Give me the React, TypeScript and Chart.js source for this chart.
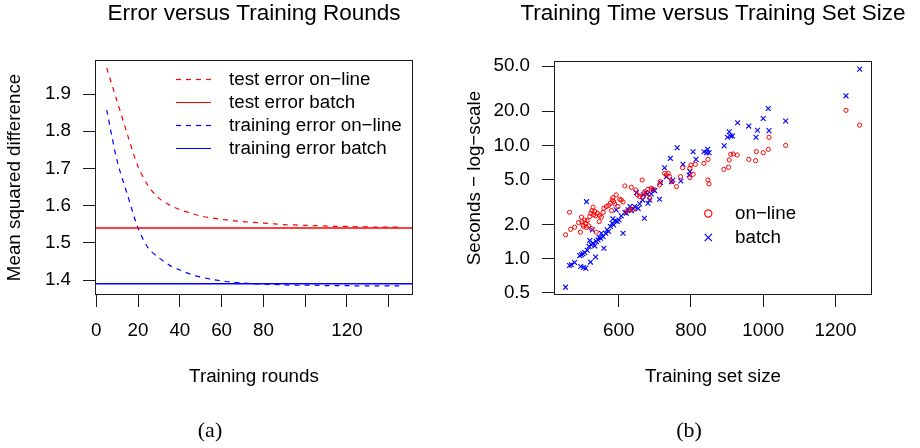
import { useEffect, useRef } from 'react';
import { Chart, registerables } from 'chart.js';

Chart.register(...registerables);

const SANS = '"Liberation Sans", Arial, Helvetica, sans-serif';
const SERIF = '"Liberation Serif", "DejaVu Serif", serif';
const TEXT_SIZE = 18.8;
const TITLE_SIZE = 22.5;
const RED = '#ff0000';
const BLUE = '#0000ff';
const INK = '#1a1a1a';

// ---- Panel (a): error versus training rounds ----
const ROUNDS = [5, 10, 15, 20, 25, 30, 35, 40, 45, 50, 55, 60, 65, 70, 75, 80, 85, 90, 95, 100, 105, 110, 115, 120, 125, 130, 135, 140, 145];
const TEST_ERROR_ONLINE = [1.970, 1.880, 1.790, 1.705, 1.652, 1.620, 1.602, 1.589, 1.580, 1.572, 1.567, 1.563, 1.560, 1.557, 1.555, 1.553, 1.551, 1.549, 1.548, 1.547, 1.546, 1.545, 1.544, 1.544, 1.543, 1.543, 1.542, 1.542, 1.542];
const TRAINING_ERROR_ONLINE = [1.857, 1.720, 1.628, 1.540, 1.485, 1.460, 1.440, 1.427, 1.416, 1.408, 1.402, 1.398, 1.394, 1.392, 1.390, 1.389, 1.388, 1.387, 1.386, 1.386, 1.386, 1.385, 1.385, 1.385, 1.384, 1.384, 1.384, 1.384, 1.384];
const TEST_ERROR_BATCH = 1.54;
const TRAINING_ERROR_BATCH = 1.39;
const ROUND_TICKS = [0, 20, 40, 60, 80, 100, 120, 140];
const ROUND_TICK_LABELS = ['0', '20', '40', '60', '80', '', '120', ''];
const ERROR_TICKS = [1.4, 1.5, 1.6, 1.7, 1.8, 1.9];
const ROUNDS_MIN = -0.6;
const ROUNDS_MAX = 151.6;
const ERROR_MIN = 1.3597;
const ERROR_MAX = 1.9914;
const ERROR_LEGEND = ['test error on\u2212line', 'test error batch', 'training error on\u2212line', 'training error batch'];

// ---- Panel (b): training time versus training set size ----
const ONLINE_SIZE = [453, 464, 467, 478, 489, 494, 497, 498, 501, 503, 506, 509, 511, 513, 517, 520, 523, 524, 526, 529, 531, 534, 536, 538, 541, 546, 547, 552, 557, 559, 566, 572, 577, 580, 582, 584, 586, 589, 593, 598, 603, 607, 612, 617, 621, 631, 635, 640, 647, 652, 658, 665, 666, 672, 677, 681, 686, 690, 695, 713, 715, 727, 732, 737, 741, 747, 760, 771, 777, 797, 797, 800, 806, 812, 836, 847, 847, 850, 891, 904, 906, 910, 917, 928, 960, 979, 981, 1000, 1014, 1016, 1062, 1229, 1267];
const ONLINE_SECONDS = [1.62, 2.56, 1.81, 1.89, 2.08, 1.71, 2.32, 2.12, 1.98, 1.92, 2.19, 2.05, 1.88, 2.16, 1.94, 2.35, 2.51, 1.84, 2.65, 2.84, 2.43, 2.60, 2.38, 1.71, 2.51, 2.12, 2.40, 2.32, 2.56, 2.78, 2.88, 2.94, 3.08, 2.65, 3.29, 3.45, 3.18, 3.04, 3.65, 2.88, 3.34, 3.29, 3.16, 4.38, 2.60, 2.69, 4.26, 2.72, 4.04, 3.65, 3.53, 4.94, 3.53, 3.90, 3.77, 4.09, 3.41, 4.18, 4.09, 4.47, 4.78, 5.66, 5.47, 5.66, 5.29, 4.78, 4.32, 5.29, 6.35, 5.19, 6.27, 6.70, 5.55, 6.80, 6.94, 7.52, 4.94, 4.56, 6.14, 6.40, 7.43, 8.33, 8.39, 8.22, 7.52, 7.32, 8.79, 8.61, 9.22, 11.8, 10.0, 20.4, 15.1];
const BATCH_SIZE = [453, 464, 469, 478, 492, 495, 497, 501, 503, 506, 509, 511, 513, 518, 520, 522, 524, 527, 529, 534, 536, 538, 543, 546, 550, 552, 557, 559, 564, 568, 572, 577, 582, 584, 586, 591, 593, 596, 601, 607, 612, 617, 621, 626, 631, 635, 640, 644, 649, 654, 658, 666, 668, 671, 675, 679, 681, 686, 690, 695, 700, 713, 716, 727, 732, 743, 746, 750, 762, 772, 778, 795, 797, 806, 814, 836, 843, 846, 850, 892, 901, 906, 910, 915, 929, 960, 980, 984, 1000, 1014, 1016, 1062, 1229, 1267];
const BATCH_SECONDS = [0.558, 0.867, 0.879, 0.922, 1.06, 0.850, 1.08, 1.10, 0.833, 1.13, 0.822, 3.18, 1.18, 1.28, 1.44, 0.929, 1.32, 1.79, 1.37, 1.29, 1.03, 1.41, 1.46, 1.53, 1.51, 1.67, 1.56, 1.23, 1.67, 1.79, 1.73, 1.92, 2.05, 2.24, 1.98, 2.15, 2.69, 2.12, 2.19, 2.38, 1.67, 2.55, 2.51, 2.69, 2.88, 2.65, 2.74, 2.88, 3.82, 2.76, 3.04, 3.29, 3.65, 2.27, 3.82, 3.72, 3.08, 3.29, 3.72, 4.04, 3.98, 3.34, 4.69, 6.35, 5.29, 7.68, 4.78, 4.94, 9.53, 4.84, 6.80, 5.47, 5.86, 8.79, 7.52, 8.79, 8.61, 9.22, 8.61, 9.93, 11.8, 13.2, 12.1, 12.1, 15.85, 14.8, 11.8, 13.6, 17.3, 21.2, 13.5, 16.4, 27.4, 47.2];
const SIZE_TICKS = [600, 800, 1000, 1200];
const SECONDS_TICKS = [0.5, 1, 2, 5, 10, 20, 50];
const SIZE_MIN = 421;
const SIZE_MAX = 1301;
const SECONDS_MIN = 0.4755;
const SECONDS_MAX = 55.7;
const TIME_LEGEND = ['on\u2212line', 'batch'];

const font = (size: number, family = SANS) => ({ family, size, weight: 'normal' as const, lineHeight: 1.2 });

// Outer box, main title, sub-caption and an in-plot legend, drawn after the datasets.
function framePlugin(title: string, caption: string, captionX: number, legend: (ctx: CanvasRenderingContext2D) => void) {
  return {
    id: 'frame',
    afterDraw(chart: any) {
      const { ctx, chartArea: a } = chart;
      ctx.save();
      ctx.strokeStyle = INK;
      ctx.lineWidth = 1;
      const l = Math.round(a.left) + 0.5;
      const t = Math.round(a.top) + 0.5;
      const r = Math.round(a.right) - 0.5;
      const b = Math.round(a.bottom) - 0.5;
      ctx.strokeRect(l, t, r - l, b - t);

      ctx.fillStyle = '#000';
      ctx.textAlign = 'center';
      ctx.textBaseline = 'middle';
      ctx.font = `${TITLE_SIZE}px ${SANS}`;
      ctx.fillText(title, (a.left + a.right) / 2, 13.5);

      ctx.font = `22px ${SERIF}`;
      ctx.fillText(caption, captionX, 431);

      legend(ctx);
      ctx.restore();
    },
  };
}

function sharedScale(size: number, tickPadding: number) {
  return {
    grid: { drawOnChartArea: false, drawTicks: true, tickLength: 12, color: INK, lineWidth: 1 },
    border: { display: false },
    ticks: { padding: tickPadding, color: '#000', font: font(TEXT_SIZE), maxRotation: 0, autoSkip: false },
    afterFit: (s: any) => {
      if (s.isHorizontal()) s.height = size;
      else s.width = size;
    },
  };
}

function ErrorPanel() {
  const ref = useRef<HTMLCanvasElement>(null);
  useEffect(() => {
    const legend = (ctx: CanvasRenderingContext2D) => {
      const rows = [79.5, 102.5, 125.5, 148.5];
      const styles = [
        { color: RED, dash: [5, 5] },
        { color: RED, dash: [] },
        { color: BLUE, dash: [5, 5] },
        { color: BLUE, dash: [] },
      ];
      ctx.font = `${TEXT_SIZE}px ${SANS}`;
      ctx.textAlign = 'left';
      ctx.textBaseline = 'middle';
      ERROR_LEGEND.forEach((label, i) => {
        ctx.strokeStyle = styles[i].color;
        ctx.setLineDash(styles[i].dash);
        ctx.lineWidth = 1.2;
        ctx.beginPath();
        ctx.moveTo(176, rows[i]);
        ctx.lineTo(211, rows[i]);
        ctx.stroke();
        ctx.setLineDash([]);
        ctx.fillStyle = '#000';
        ctx.fillText(label, 229, rows[i]);
      });
    };

    const xs = sharedScale(153, 13);
    const ys = sharedScale(95, 12);
    const chart = new Chart(ref.current!, {
      type: 'line',
      data: {
        datasets: [
          {
            label: ERROR_LEGEND[0],
            data: ROUNDS.map((x, i) => ({ x, y: TEST_ERROR_ONLINE[i] })),
            borderColor: RED, borderWidth: 1.2, borderDash: [5, 5], pointRadius: 0, tension: 0.3,
          },
          {
            label: ERROR_LEGEND[1],
            data: [{ x: ROUNDS_MIN, y: TEST_ERROR_BATCH }, { x: ROUNDS_MAX, y: TEST_ERROR_BATCH }],
            borderColor: RED, borderWidth: 1.5, pointRadius: 0,
          },
          {
            label: ERROR_LEGEND[2],
            data: ROUNDS.map((x, i) => ({ x, y: TRAINING_ERROR_ONLINE[i] })),
            borderColor: BLUE, borderWidth: 1.2, borderDash: [5, 5], pointRadius: 0, tension: 0.3,
          },
          {
            label: ERROR_LEGEND[3],
            data: [{ x: ROUNDS_MIN, y: TRAINING_ERROR_BATCH }, { x: ROUNDS_MAX, y: TRAINING_ERROR_BATCH }],
            borderColor: BLUE, borderWidth: 1.5, pointRadius: 0,
          },
        ],
      },
      options: {
        responsive: false,
        animation: false,
        events: [],
        layout: { padding: { left: 0, top: 60, right: 47, bottom: 0 } },
        plugins: { legend: { display: false }, tooltip: { enabled: false }, title: { display: false } },
        scales: {
          x: {
            type: 'linear',
            min: ROUNDS_MIN,
            max: ROUNDS_MAX,
            ...xs,
            afterBuildTicks: (s: any) => { s.ticks = ROUND_TICKS.map((value) => ({ value })); },
            ticks: { ...xs.ticks, callback: (v: any) => ROUND_TICK_LABELS[ROUND_TICKS.indexOf(Number(v))] ?? '' },
            title: { display: true, text: 'Training rounds', color: '#000', font: font(TEXT_SIZE), padding: { top: 0, bottom: 60 } },
          },
          y: {
            type: 'linear',
            min: ERROR_MIN,
            max: ERROR_MAX,
            ...ys,
            afterBuildTicks: (s: any) => { s.ticks = ERROR_TICKS.map((value) => ({ value })); },
            ticks: { ...ys.ticks, callback: (v: any) => Number(v).toFixed(1) },
            title: { display: true, text: 'Mean squared difference', color: '#000', font: font(TEXT_SIZE), padding: { top: 4, bottom: 0 } },
          },
        },
      },
      plugins: [framePlugin('Error versus Training Rounds', '(a)', 210, legend)],
    } as any);
    return () => chart.destroy();
  }, []);
  return <canvas ref={ref} width={460} height={448} style={{ position: 'absolute', left: 0, top: 0 }} />;
}

function TimePanel() {
  const ref = useRef<HTMLCanvasElement>(null);
  useEffect(() => {
    const legend = (ctx: CanvasRenderingContext2D) => {
      const cx = 248.3;
      const rows = [213.5, 237.5];
      ctx.lineWidth = 1.2;
      ctx.strokeStyle = RED;
      ctx.beginPath();
      ctx.arc(cx, rows[0], 3.6, 0, Math.PI * 2);
      ctx.stroke();
      ctx.strokeStyle = BLUE;
      const h = 3.6;
      ctx.beginPath();
      ctx.moveTo(cx - h, rows[1] - h);
      ctx.lineTo(cx + h, rows[1] + h);
      ctx.moveTo(cx - h, rows[1] + h);
      ctx.lineTo(cx + h, rows[1] - h);
      ctx.stroke();
      ctx.fillStyle = '#000';
      ctx.font = `${TEXT_SIZE}px ${SANS}`;
      ctx.textAlign = 'left';
      ctx.textBaseline = 'middle';
      TIME_LEGEND.forEach((label, i) => ctx.fillText(label, 275, rows[i]));
    };

    const xs = sharedScale(153, 13);
    const ys = sharedScale(94, 12);
    const chart = new Chart(ref.current!, {
      type: 'scatter',
      data: {
        datasets: [
          {
            label: TIME_LEGEND[0],
            data: ONLINE_SIZE.map((x, i) => ({ x, y: ONLINE_SECONDS[i] })),
            pointStyle: 'circle', pointRadius: 2.1, pointBorderWidth: 1, pointBorderColor: RED, pointBackgroundColor: 'rgba(0,0,0,0)',
          },
          {
            label: TIME_LEGEND[1],
            data: BATCH_SIZE.map((x, i) => ({ x, y: BATCH_SECONDS[i] })),
            pointStyle: 'crossRot', pointRadius: 3.4, pointBorderWidth: 1.1, pointBorderColor: BLUE, pointBackgroundColor: BLUE,
          },
        ],
      },
      options: {
        responsive: false,
        animation: false,
        events: [],
        layout: { padding: { left: 0, top: 61, right: 48, bottom: 0 } },
        plugins: { legend: { display: false }, tooltip: { enabled: false }, title: { display: false } },
        scales: {
          x: {
            type: 'linear',
            min: SIZE_MIN,
            max: SIZE_MAX,
            ...xs,
            afterBuildTicks: (s: any) => { s.ticks = SIZE_TICKS.map((value) => ({ value })); },
            ticks: { ...xs.ticks, callback: (v: any) => String(v) },
            title: { display: true, text: 'Training set size', color: '#000', font: font(TEXT_SIZE), padding: { top: 0, bottom: 60 } },
          },
          y: {
            type: 'logarithmic',
            min: SECONDS_MIN,
            max: SECONDS_MAX,
            ...ys,
            afterBuildTicks: (s: any) => { s.ticks = SECONDS_TICKS.map((value) => ({ value })); },
            ticks: { ...ys.ticks, callback: (v: any) => Number(v).toFixed(1) },
            title: { display: true, text: 'Seconds \u2212 log\u2212scale', color: '#000', font: font(TEXT_SIZE), padding: { top: 4, bottom: 0 } },
          },
        },
      },
      plugins: [framePlugin('Training Time versus Training Set Size', '(b)', 229, legend)],
    } as any);
    return () => chart.destroy();
  }, []);
  return <canvas ref={ref} width={460} height={448} style={{ position: 'absolute', left: 460, top: 0 }} />;
}

export default function App() {
  return (
    <div style={{ position: 'fixed', left: 0, top: 0, width: 920, height: 448, background: '#fff', overflow: 'hidden' }}>
      <ErrorPanel />
      <TimePanel />
    </div>
  );
}
